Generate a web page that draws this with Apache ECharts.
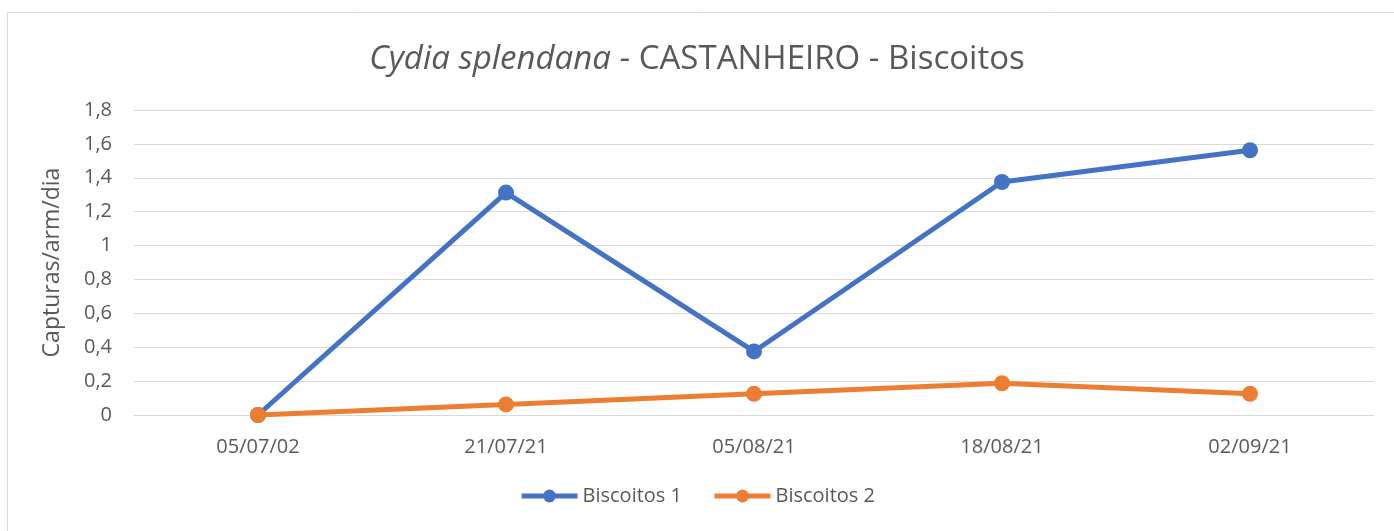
<!DOCTYPE html>
<html>
<head>
<meta charset="utf-8">
<script src="https://cdn.jsdelivr.net/npm/echarts@6/dist/echarts.min.js"></script>
<style>
  html, body { margin: 0; padding: 0; background: #fff; }
  #chart { width: 1394px; height: 531px; }
</style>
</head>
<body>
<div id="chart"></div>
<script>
// datas de captura
var datas = ["05/07/02", "21/07/21", "05/08/21", "18/08/21", "02/09/21"];
// capturas por armadilha por dia
var biscoitos1 = [0, 1.3125, 0.375, 1.375, 1.5625];
var biscoitos2 = [0, 0.0625, 0.125, 0.1875, 0.125];
var yTicks = { min: 0, max: 1.8, interval: 0.2 };

var fonte = "'Open Sans', 'Liberation Sans', sans-serif";
var cinza = "#595959";

var chart = echarts.init(document.getElementById("chart"));
chart.setOption({
  animation: false,
  graphic: [{
    type: "rect",
    shape: { x: 7.5, y: 12.5, width: 1400, height: 540 },
    style: { fill: "none", stroke: "#d9d9d9", lineWidth: 1 },
    silent: true
  }],
  title: {
    text: "{i|Cydia splendana} - CASTANHEIRO - Biscoitos",
    left: "center",
    top: 38,
    textStyle: {
      fontFamily: fonte,
      fontSize: 33,
      fontWeight: "normal",
      color: cinza,
      rich: {
        i: { fontFamily: fonte, fontSize: 33, fontStyle: "italic", color: cinza }
      }
    }
  },
  legend: {
    bottom: 20,
    left: "center",
    itemWidth: 56,
    itemHeight: 16,
    itemGap: 30,
    lineStyle: { width: 5 },
    textStyle: { fontFamily: fonte, fontSize: 20, color: cinza },
    data: ["Biscoitos 1", "Biscoitos 2"]
  },
  grid: { left: 134, right: 20, top: 110, bottom: 116 },
  xAxis: {
    type: "category",
    data: datas,
    axisTick: { show: false },
    axisLine: { lineStyle: { color: "#d9d9d9", width: 1 } },
    axisLabel: { fontFamily: fonte, fontSize: 20, color: cinza, margin: 22 }
  },
  yAxis: {
    type: "value",
    min: yTicks.min,
    max: yTicks.max,
    interval: yTicks.interval,
    name: "Capturas/arm/dia",
    nameLocation: "middle",
    nameGap: 70,
    nameTextStyle: { fontFamily: fonte, fontSize: 23, color: cinza },
    axisLine: { show: false },
    axisTick: { show: false },
    splitLine: { lineStyle: { color: "#d9d9d9", width: 1 } },
    axisLabel: {
      fontFamily: fonte, fontSize: 20, color: cinza, margin: 22,
      formatter: function (v) { return String(Math.round(v * 10) / 10).replace(".", ","); }
    }
  },
  series: [
    {
      name: "Biscoitos 1",
      type: "line",
      data: biscoitos1,
      symbol: "circle",
      symbolSize: 16,
      lineStyle: { width: 5, color: "#4472c4" },
      itemStyle: { color: "#4472c4" }
    },
    {
      name: "Biscoitos 2",
      type: "line",
      data: biscoitos2,
      symbol: "circle",
      symbolSize: 16,
      lineStyle: { width: 5, color: "#ed7d31" },
      itemStyle: { color: "#ed7d31" }
    }
  ]
});
</script>
</body>
</html>
